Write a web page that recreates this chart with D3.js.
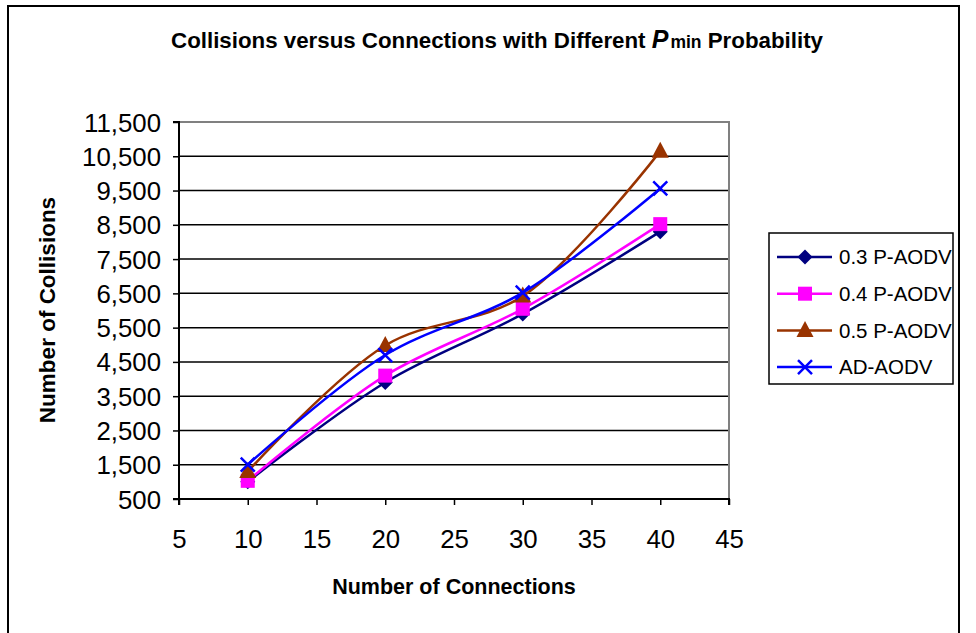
<!DOCTYPE html>
<html><head><meta charset="utf-8">
<script src="https://cdn.jsdelivr.net/npm/d3@7"></script>
<style>body{margin:0;background:#fff}svg{display:block;font-family:"Liberation Sans",Arial,sans-serif}</style>
</head><body><svg id="c" width="976" height="633"></svg>
<script>
const connections = [10, 20, 30, 40];
const seriesNames = ["0.3 P-AODV", "0.4 P-AODV", "0.5 P-AODV", "AD-AODV"];
const p03 = [1000, 3900, 5900, 8300];
const p04 = [1030, 4100, 6050, 8520];
const p05 = [1300, 4980, 6420, 10650];
const adAodv = [1500, 4700, 6520, 9560];
const yTicks = [500, 1500, 2500, 3500, 4500, 5500, 6500, 7500, 8500, 9500, 10500, 11500];
const xTicks = [5, 10, 15, 20, 25, 30, 35, 40, 45];
const colors = ["#000080", "#FF00FF", "#993300", "#0000FF"];
const markers = ["diamond", "square", "triangle", "x"];
const series = [p03, p04, p05, adAodv];

const svg = d3.select("#c");
const L = 179, R = 729, T = 122, B = 499;
const x = d3.scaleLinear().domain([5, 45]).range([L, R]);
const y = d3.scaleLinear().domain([500, 11500]).range([B, T]);

// outer frame
svg.append("rect").attr("x", 8).attr("y", 6).attr("width", 951).attr("height", 640)
  .attr("fill", "none").attr("stroke", "#000").attr("stroke-width", 2);

// title
const title = svg.append("text").attr("x", 497).attr("y", 48).attr("text-anchor", "middle")
  .attr("font-size", 22.3).attr("font-weight", "bold");
title.append("tspan").text("Collisions versus Connections with Different ");
title.append("tspan").attr("font-style", "italic").attr("font-size", 25).text("P");
title.append("tspan").attr("font-size", 17.5).attr("dx", 2).text("min");
title.append("tspan").text(" Probability");

// gridlines
svg.append("g").selectAll("line").data(yTicks.slice(1)).join("line")
  .attr("x1", L).attr("x2", R).attr("y1", d => y(d)).attr("y2", d => y(d))
  .attr("stroke", "#000").attr("stroke-width", 1.5);
// plot border top/right gray
svg.append("path").attr("d", `M${L},${T}H${R}V${B}`).attr("fill", "none")
  .attr("stroke", "#808080").attr("stroke-width", 2);

// axes
const yAxis = d3.axisLeft(y).tickValues(yTicks).tickSize(6).tickPadding(12).tickFormat(d3.format(","));
const xAxis = d3.axisBottom(x).tickValues(xTicks).tickSize(6).tickPadding(25).tickFormat(d3.format("d"));
const gy = svg.append("g").attr("transform", `translate(${L},0)`).call(yAxis);
const gx = svg.append("g").attr("transform", `translate(0,${B})`).call(xAxis);
[gy, gx].forEach(g => {
  g.select(".domain").attr("stroke", "#000").attr("stroke-width", 2);
  g.selectAll(".tick line").attr("stroke", "#000").attr("stroke-width", 1.5);
  g.selectAll("text").attr("font-size", 25.8).attr("fill", "#000")
    .attr("font-family", '"Liberation Sans",Arial,sans-serif');
});
gy.select(".domain").attr("d", `M-6,${B}H0V${T}H-6`);
gx.select(".domain").attr("d", `M${L},6V0H${R}V6`);
gy.selectAll("text").attr("dy", "0.35em");

// axis titles
svg.append("text").attr("x", (L + R) / 2).attr("y", 594).attr("text-anchor", "middle")
  .attr("font-size", 21.5).attr("font-weight", "bold").text("Number of Connections");
svg.append("text").attr("transform", "translate(55,310) rotate(-90)").attr("text-anchor", "middle")
  .attr("font-size", 22.5).attr("font-weight", "bold").text("Number of Collisions");

// lines
const line = d3.line().x((d, i) => x(connections[i])).y(d => y(d)).curve(d3.curveCatmullRom.alpha(0.5));

function drawMarker(g, type, color, cx, cy) {
  if (type === "diamond") {
    g.append("path").attr("d", `M${cx},${cy-7.5}L${cx+7.5},${cy}L${cx},${cy+7.5}L${cx-7.5},${cy}Z`).attr("fill", color);
  } else if (type === "square") {
    g.append("rect").attr("x", cx-7).attr("y", cy-7).attr("width", 14).attr("height", 14).attr("fill", color);
  } else if (type === "triangle") {
    g.append("path").attr("d", `M${cx},${cy-9.5}L${cx+8.5},${cy+6.5}L${cx-8.5},${cy+6.5}Z`).attr("fill", color);
  } else {
    g.append("path").attr("d", `M${cx-7},${cy-7}L${cx+7},${cy+7}M${cx+7},${cy-7}L${cx-7},${cy+7}`)
      .attr("stroke", color).attr("stroke-width", 2.5);
  }
}

series.forEach((s, k) => {
  const g = svg.append("g");
  g.append("path").datum(s).attr("d", line).attr("fill", "none")
    .attr("stroke", colors[k]).attr("stroke-width", 2.5);
  s.forEach((v, i) => drawMarker(g, markers[k], colors[k], x(connections[i]), y(v)));
});

// legend
const lg = svg.append("g");
lg.append("rect").attr("x", 769).attr("y", 233).attr("width", 184).attr("height", 151)
  .attr("fill", "#fff").attr("stroke", "#000").attr("stroke-width", 1.5);
seriesNames.forEach((n, k) => {
  const yy = 257 + k * 36.7;
  lg.append("line").attr("x1", 777).attr("x2", 832).attr("y1", yy).attr("y2", yy)
    .attr("stroke", colors[k]).attr("stroke-width", 2.5);
  drawMarker(lg, markers[k], colors[k], 805, yy);
  lg.append("text").attr("x", 839).attr("y", yy).attr("dy", "0.35em").attr("font-size", 20.5).text(n);
});
</script></body></html>
